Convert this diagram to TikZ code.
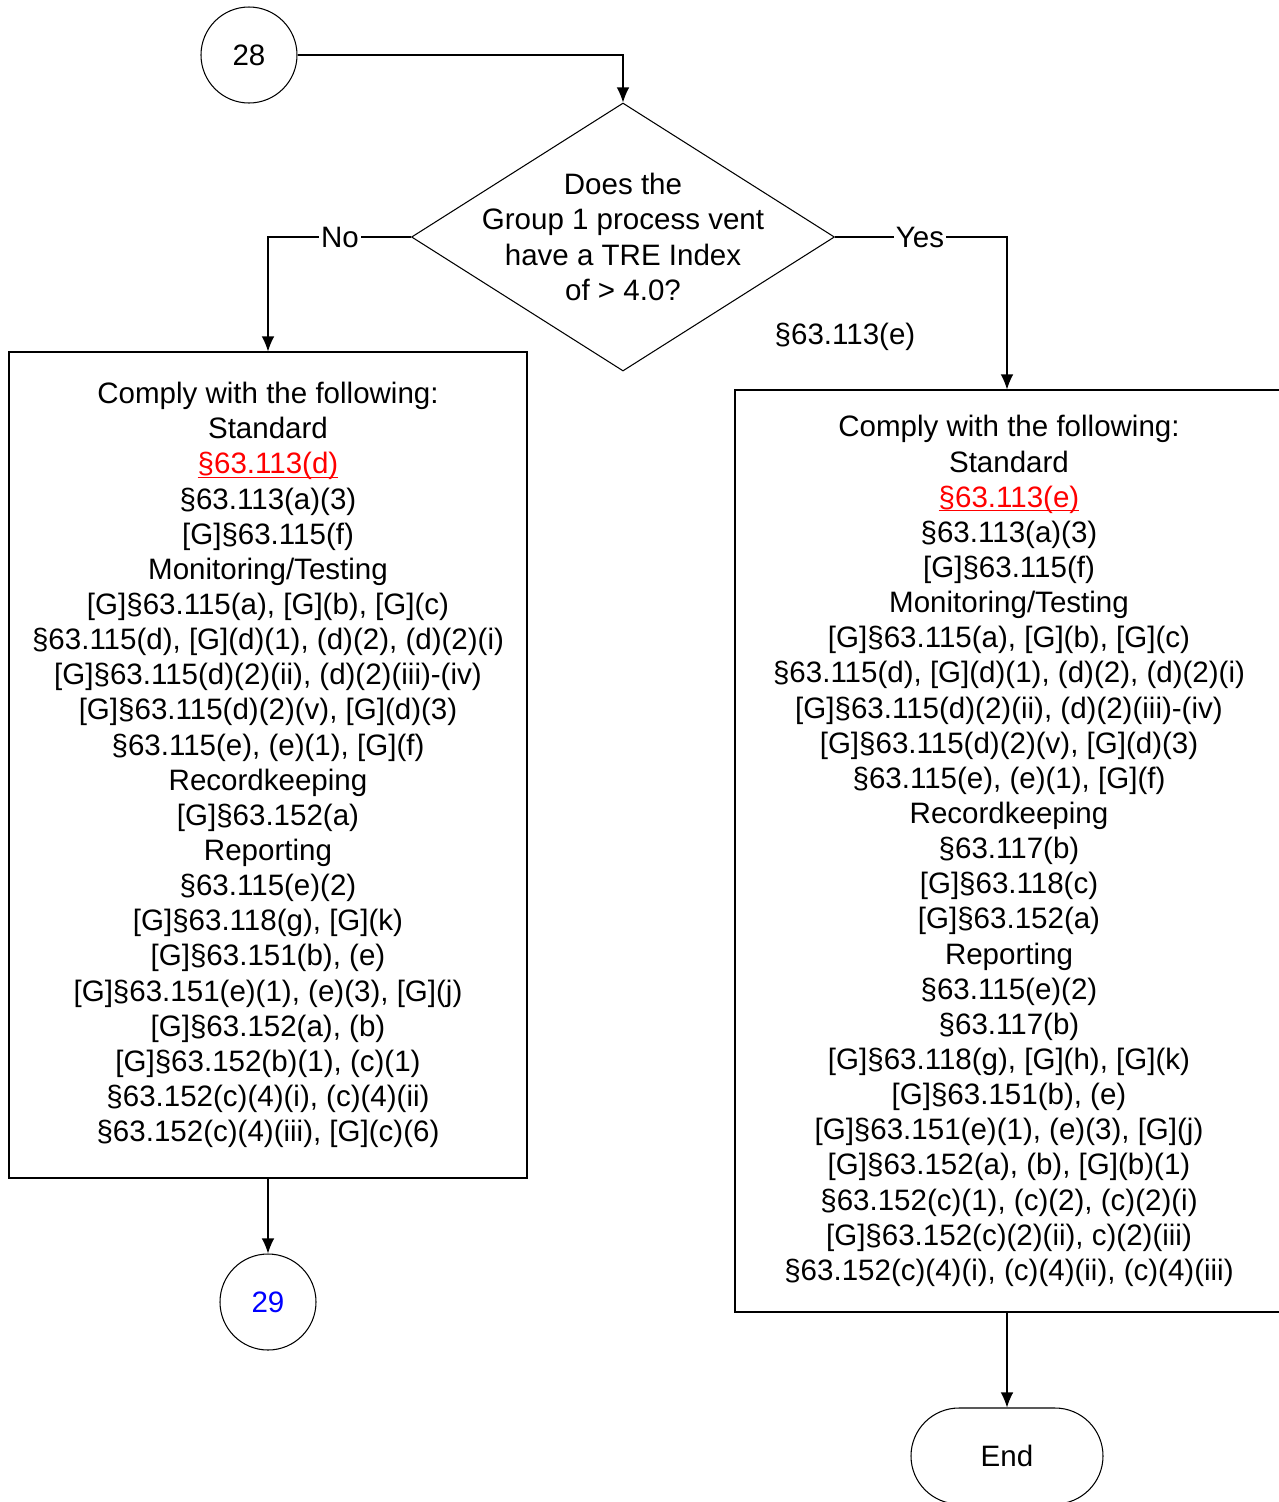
\documentclass[tikz,border=0pt]{standalone}
\usepackage{fontspec}
\setmainfont{Liberation Sans}
\usetikzlibrary{shapes.geometric,arrows.meta}
\newcommand{\redref}[1]{\textcolor{red}{\setbox0\hbox{#1}\rlap{\rule[-2.2pt]{\wd0}{0.7pt}}\box0}}

\begin{document}
\begin{tikzpicture}[
    line width=0.6pt,
    every node/.style={font=\fontsize{16.8}{20}\selectfont},
    conn/.style={draw,circle,minimum size=1.92cm,inner sep=0pt},
    decision/.style={draw,diamond,minimum width=8.46cm,minimum height=5.36cm,inner sep=0pt},
    listbox/.style={draw,rectangle,align=center,inner sep=0pt},
    term/.style={draw,rectangle,rounded corners=9.6mm,minimum width=3.84cm,minimum height=1.92cm},
    arr/.style={-{Latex[length=3mm,width=2.5mm]}}
  ]
  \useasboundingbox (0,0) rectangle (25.56,-30.04);

  \node[conn] (c28) at (4.98,-1.10) {28};
  \node[decision] (dec) at (12.46,-4.74) {};
  \node[align=center] (q) at (dec.center) {Does the\\Group 1 process vent\\have a TRE Index\\of > 4.0?};

  \node[listbox,minimum width=10.36cm,minimum height=16.52cm] (left) at (5.36,-15.30) {Comply with the following:\\
    Standard\\
    \redref{§63.113(d)}\\
    §63.113(a)(3)\\
    {}[G]§63.115(f)\\
    Monitoring/Testing\\
    {}[G]§63.115(a), [G](b), [G](c)\\
    §63.115(d), [G](d)(1), (d)(2), (d)(2)(i)\\
    {}[G]§63.115(d)(2)(ii), (d)(2)(iii)-(iv)\\
    {}[G]§63.115(d)(2)(v), [G](d)(3)\\
    §63.115(e), (e)(1), [G](f)\\
    Recordkeeping\\
    {}[G]§63.152(a)\\
    Reporting\\
    §63.115(e)(2)\\
    {}[G]§63.118(g), [G](k)\\
    {}[G]§63.151(b), (e)\\
    {}[G]§63.151(e)(1), (e)(3), [G](j)\\
    {}[G]§63.152(a), (b)\\
    {}[G]§63.152(b)(1), (c)(1)\\
    §63.152(c)(4)(i), (c)(4)(ii)\\
    §63.152(c)(4)(iii), [G](c)(6)};

  \node[listbox,minimum width=10.96cm,minimum height=18.44cm] (right) at (20.18,-17.02) {Comply with the following:\\
    Standard\\
    \redref{§63.113(e)}\\
    §63.113(a)(3)\\
    {}[G]§63.115(f)\\
    Monitoring/Testing\\
    {}[G]§63.115(a), [G](b), [G](c)\\
    §63.115(d), [G](d)(1), (d)(2), (d)(2)(i)\\
    {}[G]§63.115(d)(2)(ii), (d)(2)(iii)-(iv)\\
    {}[G]§63.115(d)(2)(v), [G](d)(3)\\
    §63.115(e), (e)(1), [G](f)\\
    Recordkeeping\\
    §63.117(b)\\
    {}[G]§63.118(c)\\
    {}[G]§63.152(a)\\
    Reporting\\
    §63.115(e)(2)\\
    §63.117(b)\\
    {}[G]§63.118(g), [G](h), [G](k)\\
    {}[G]§63.151(b), (e)\\
    {}[G]§63.151(e)(1), (e)(3), [G](j)\\
    {}[G]§63.152(a), (b), [G](b)(1)\\
    §63.152(c)(1), (c)(2), (c)(2)(i)\\
    {}[G]§63.152(c)(2)(ii), c)(2)(iii)\\
    §63.152(c)(4)(i), (c)(4)(ii), (c)(4)(iii)};

  \node[conn,text=blue] (c29) at (5.36,-26.04) {29};
  \node[term] (fin) at (20.14,-29.12) {End};

  % connectors
  \draw[arr] (c28.east) -| (dec.north);
  \draw[arr] (dec.west) -| (left.north);
  \draw[arr] (dec.east) -| (fin.north |- right.north);
  \draw[arr] (left.south) -- (c29.north);
  \draw[arr] (fin.north |- right.south) -- (fin.north);

  \node[fill=white,inner sep=1pt] (no) at (6.80,-4.74) {No};
  \node[fill=white,inner sep=1pt] (yes) at (18.40,-4.74) {Yes};
  \node (ref) at (16.90,-6.74) {§63.113(e)};
\end{tikzpicture}
\end{document}
